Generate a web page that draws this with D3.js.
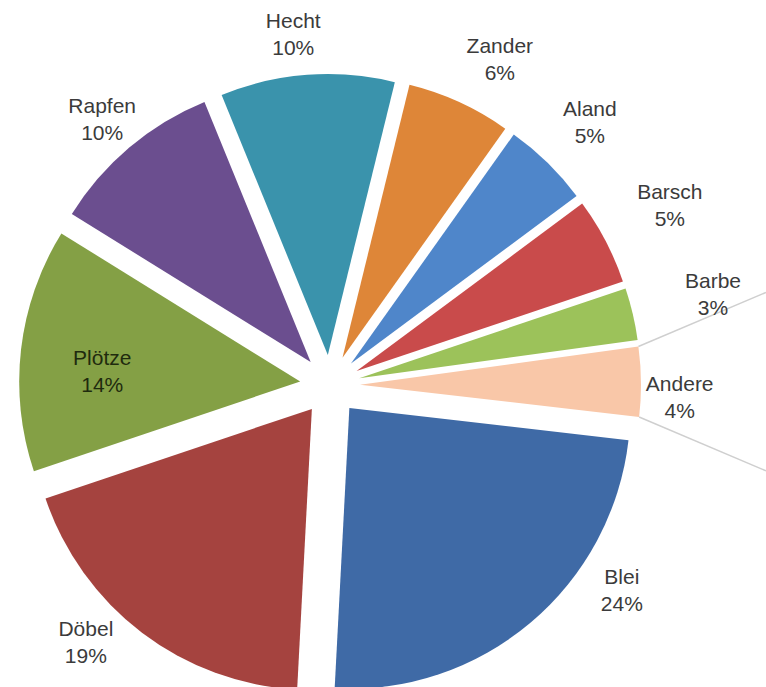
<!DOCTYPE html>
<html>
<head>
<meta charset="utf-8">
<script src="https://cdn.jsdelivr.net/npm/d3@7"></script>
<style>
  html, body { margin: 0; padding: 0; background: #fff; }
  svg { display: block; }
</style>
</head>
<body>
<script>
// Fish species share (percent), in slice order
var species = ["Blei", "Döbel", "Plötze", "Rapfen", "Hecht", "Zander", "Aland", "Barsch", "Barbe", "Andere"];
var shares  = [24, 19, 14, 10, 10, 6, 5, 5, 3, 4];
var colours = ["#3f6aa6", "#a5433f", "#84a045", "#6b4e8f", "#3a93ac", "#de8638", "#4f86ca", "#c94b4b", "#9cc25a", "#f9c7a8"];

// Layout
var width = 766, height = 687;
var cx = 330, cy = 385, radius = 281, explode = 30;
var firstAngle = 96.6 * Math.PI / 180;
var font = "'Liberation Sans', Arial, sans-serif";

// where each label sits: [angle deg clockwise from top, distance from centre]
var labelAt = {
  "Hecht": [-5.7, 350], "Zander": [28, 366], "Aland": [45.2, 369], "Barsch": [62.6, 385],
  "Barbe": [77.1, 395], "Andere": [92.4, 352], "Blei": [125.3, 360], "Döbel": [-137, 355],
  "Plötze": [-87.2, 226], "Rapfen": [-40.6, 347]
};

var rows = species.map(function(s, i) { return { name: s, value: shares[i], colour: colours[i] }; });

var svg = d3.select("body").append("svg")
    .attr("width", width)
    .attr("height", height);

var g = svg.append("g").attr("transform", "translate(" + cx + "," + cy + ")");

var pie = d3.pie()
    .sort(null)
    .value(function(d) { return d.value; })
    .startAngle(firstAngle)
    .endAngle(firstAngle + 2 * Math.PI);

var arc = d3.arc().innerRadius(0).outerRadius(radius);

var slices = pie(rows);

function offset(d) {
  var mid = (d.startAngle + d.endAngle) / 2;
  return [explode * Math.sin(mid), -explode * Math.cos(mid)];
}

// connector lines from "Andere" towards a second pie off to the right
var andere = slices[slices.length - 1];
var ao = offset(andere);
[[andere.startAngle, -23], [andere.endAngle, 23]].forEach(function(p) {
  var x0 = ao[0] + radius * Math.sin(p[0]);
  var y0 = ao[1] - radius * Math.cos(p[0]);
  var x1 = width - cx;
  var y1 = y0 + (x1 - x0) * Math.tan(p[1] * Math.PI / 180);
  g.append("line")
      .attr("x1", x0).attr("y1", y0)
      .attr("x2", x1).attr("y2", y1)
      .attr("stroke", "#cfcfcf")
      .attr("stroke-width", 1.5);
});

g.selectAll("path.slice")
    .data(slices)
    .enter().append("path")
    .attr("class", "slice")
    .attr("d", arc)
    .attr("fill", function(d) { return d.data.colour; })
    .attr("transform", function(d) { return "translate(" + offset(d) + ")"; });

// labels: name and percent on two lines
var labels = g.selectAll("text.lbl")
    .data(slices)
    .enter().append("text")
    .attr("class", "lbl")
    .attr("text-anchor", "middle")
    .style("font-family", font)
    .style("font-size", "21px")
    .attr("fill", function(d) { return d.data.name === "Plötze" ? "#1f2b0e" : "#3b3b3b"; })
    .attr("transform", function(d) {
      var p = labelAt[d.data.name];
      var a = p[0] * Math.PI / 180;
      return "translate(" + (p[1] * Math.sin(a) - 2) + "," + (-p[1] * Math.cos(a)) + ")";
    });

labels.append("tspan")
    .attr("x", 0).attr("y", -9)
    .text(function(d) { return d.data.name; });

labels.append("tspan")
    .attr("x", 0).attr("y", 18)
    .text(function(d) { return d.data.value + "%"; });
</script>
</body>
</html>
